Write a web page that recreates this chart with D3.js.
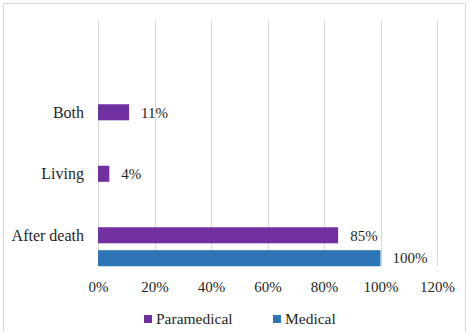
<!DOCTYPE html>
<meta charset="utf-8">
<body style="margin:0;background-color:white;">
<svg width="471" height="332"></svg>
<script src="https://d3js.org/d3.v7.min.js"></script>
<script>

var categories = ["Both", "Living", "After death"];
var seriesNames = ["Paramedical", "Medical"];
var paramedical = [11, 4, 85];
var medical = [null, null, 100];
var xTicks = [0, 20, 40, 60, 80, 100, 120];

var colors = {Paramedical: "#7030A0", Medical: "#2E75B6"};
var font = "'Liberation Serif', 'Times New Roman', serif";

var svg = d3.select("svg");

// chart border, bottom edge is cut off in the original
svg.append("rect")
   .attr("x", 3.5).attr("y", 3.5)
   .attr("width", 462).attr("height", 340)
   .attr("fill", "white")
   .attr("stroke", "#d9d9d9");

var x = d3.scaleLinear().domain([0, 120]).range([98, 437]);

// plot area runs 20..266, categories fill the lower part
var y = d3.scaleBand().domain(categories).range([81.5, 266]);
var sub = d3.scaleBand().domain(seriesNames).range([0, 39]).paddingInner(0.3);

var grid = svg.append("g");
grid.selectAll("line")
    .data(xTicks)
    .enter().append("line")
    .attr("x1", function(d) { return Math.round(x(d)) + 0.5; })
    .attr("x2", function(d) { return Math.round(x(d)) + 0.5; })
    .attr("y1", 20)
    .attr("y2", 266)
    .attr("stroke", "#d9d9d9")
    .attr("stroke-width", 1);

var rows = categories.map(function(c, i) {
  return {cat: c, Paramedical: paramedical[i], Medical: medical[i]};
});

var bars = svg.append("g");
rows.forEach(function(r) {
  var top = y(r.cat) + y.bandwidth() / 2 - 8;
  seriesNames.forEach(function(s) {
    if (r[s] == null) return;
    bars.append("rect")
        .attr("x", x(0))
        .attr("y", top + sub(s))
        .attr("width", x(r[s]) - x(0))
        .attr("height", sub.bandwidth())
        .attr("fill", colors[s]);
    bars.append("text")
        .attr("x", x(r[s]) + 12)
        .attr("y", top + sub(s) + sub.bandwidth() / 2)
        .attr("dy", "0.35em")
        .attr("font-family", font)
        .attr("font-size", 15)
        .attr("fill", "#262626")
        .text(r[s] + "%");
  });
});

// category labels
svg.append("g").selectAll("text")
   .data(categories)
   .enter().append("text")
   .attr("x", 84)
   .attr("y", function(d) { return y(d) + y.bandwidth() / 2; })
   .attr("dy", "0.35em")
   .attr("text-anchor", "end")
   .attr("font-family", font)
   .attr("font-size", 16)
   .attr("fill", "#262626")
   .text(function(d) { return d; });

// x axis tick labels
var xAxis = d3.axisBottom(x).tickValues(xTicks).tickSize(0).tickPadding(0)
              .tickFormat(function(d) { return d + "%"; });
var ax = svg.append("g").attr("transform", "translate(0,281)").call(xAxis);
ax.select(".domain").remove();
ax.selectAll("text")
  .attr("font-family", font)
  .attr("font-size", 15)
  .attr("fill", "#262626");

// legend
var legendX = {Paramedical: 144, Medical: 273};
var legend = svg.append("g");
seriesNames.forEach(function(s) {
  legend.append("rect")
        .attr("x", legendX[s]).attr("y", 315)
        .attr("width", 8).attr("height", 8)
        .attr("fill", colors[s]);
  legend.append("text")
        .attr("x", legendX[s] + 12)
        .attr("y", 319)
        .attr("dy", "0.35em")
        .attr("font-family", font)
        .attr("font-size", 15.5)
        .attr("fill", "#262626")
        .text(s);
});

</script>
</body>
